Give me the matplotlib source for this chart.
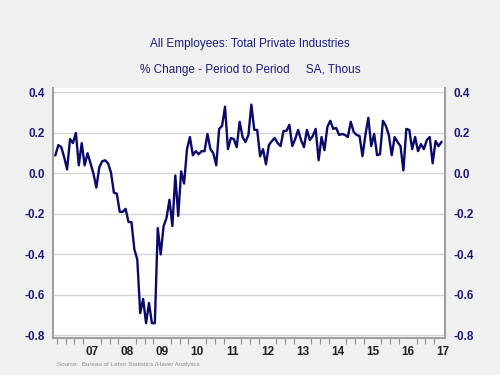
import matplotlib
matplotlib.use("Agg")
import matplotlib.pyplot as plt
import numpy as np
from matplotlib.ticker import FixedLocator, NullFormatter

plt.rcParams['font.family'] = ['Liberation Sans', 'DejaVu Sans']

# Monthly % change, starting June 2006
start_year = 2006
start_month = 6
values = [
    0.09, 0.14, 0.13, 0.08, 0.02, 0.17, 0.15, 0.20, 0.04, 0.15,
    0.04, 0.10, 0.05, 0.00, -0.07, 0.03, 0.06, 0.065, 0.05, 0.005,
    -0.095, -0.10, -0.19, -0.19, -0.175, -0.24, -0.24, -0.375, -0.425, -0.69,
    -0.62, -0.74, -0.64, -0.74, -0.74, -0.27, -0.40, -0.26, -0.22, -0.13,
    -0.26, -0.01, -0.21, 0.01, -0.05, 0.12, 0.18, 0.09, 0.11, 0.095,
    0.11,
    0.11, 0.195, 0.12, 0.10, 0.04, 0.22, 0.235, 0.33, 0.12, 0.175,
    0.17, 0.13, 0.255, 0.18, 0.155, 0.19, 0.34, 0.215, 0.215, 0.085,
    0.12, 0.045, 0.14, 0.16, 0.175, 0.15, 0.135, 0.21, 0.21, 0.24,
    0.135, 0.17, 0.215, 0.165, 0.13, 0.215, 0.165, 0.185, 0.22, 0.065,
    0.18, 0.115, 0.23, 0.26, 0.22, 0.225, 0.19, 0.195, 0.19, 0.18,
    0.255, 0.205, 0.19, 0.185, 0.085, 0.19, 0.275, 0.135, 0.195, 0.09,
    0.095, 0.26, 0.235, 0.19, 0.09, 0.18, 0.155, 0.135, 0.015, 0.22,
    0.215, 0.12, 0.18, 0.11, 0.145, 0.12, 0.165, 0.18, 0.05, 0.16,
    0.135, 0.155,
]
year_labels = ['07', '08', '09', '10', '11', '12', '13', '14', '15', '16', '17']
y_ticks = [0.4, 0.2, 0.0, -0.2, -0.4, -0.6, -0.8]

n = len(values)
t = np.array([start_year + (start_month - 1 + i + 0.5) / 12.0 for i in range(n)])

navy = '#1c1c7c'
fig = plt.figure(figsize=(5, 3.75), dpi=100, facecolor='#f0f0f0')
ax = fig.add_axes([0.106, 0.0987, 0.784, 0.6666])
ax.set_facecolor('white')

ax.plot(t, values, color='#0a0a6a', linewidth=1.7, solid_joinstyle='round')

ax.set_xlim(2006.39, 2017.56)
ax.set_ylim(-0.813, 0.422)

ax.set_yticks(y_ticks)
ax.set_yticklabels([f"{v:.1f}" for v in y_ticks])
ax.yaxis.grid(True, color='#d4d4d4', linewidth=1.0)
ax.set_axisbelow(True)
ax.tick_params(axis='y', which='both', length=0, labelsize=8.5, labelcolor=navy,
               left=True, right=True, labelleft=True, labelright=True, pad=6)
for lab in ax.get_yticklabels(which='both'):
    lab.set_fontweight('bold')

# x axis: year ticks and quarterly minor ticks, labels at mid-year
years = np.arange(2007, 2018)
ax.xaxis.set_major_locator(FixedLocator(years + 0.5))
ax.set_xticklabels(year_labels, fontweight='bold')
ax.tick_params(axis='x', which='major', length=0, labelsize=8.5, labelcolor='#222222', pad=6)
quarters = np.arange(2006.5, 2017.6, 0.25)
ax.xaxis.set_minor_locator(FixedLocator(quarters))
ax.xaxis.set_minor_formatter(NullFormatter())
ax.tick_params(axis='x', which='minor', length=4, width=0.8, color='#909090', direction='out')

for side in ['left', 'right', 'bottom']:
    ax.spines[side].set_color('#a0a0a0')
    ax.spines[side].set_linewidth(1.5)
ax.spines['top'].set_visible(False)

fig.text(0.5, 0.882, 'All Employees: Total Private Industries', ha='center', va='center',
         fontsize=8.5, color=navy)
fig.text(0.5, 0.813, '% Change - Period to Period     SA, Thous', ha='center', va='center',
         fontsize=8.5, color=navy)
fig.text(0.114, 0.027, 'Source:  Bureau of Labor Statistics /Haver Analytics', ha='left', va='center',
         fontsize=4.5, color='#909090')

fig.savefig('out.png', dpi=100, facecolor=fig.get_facecolor())
